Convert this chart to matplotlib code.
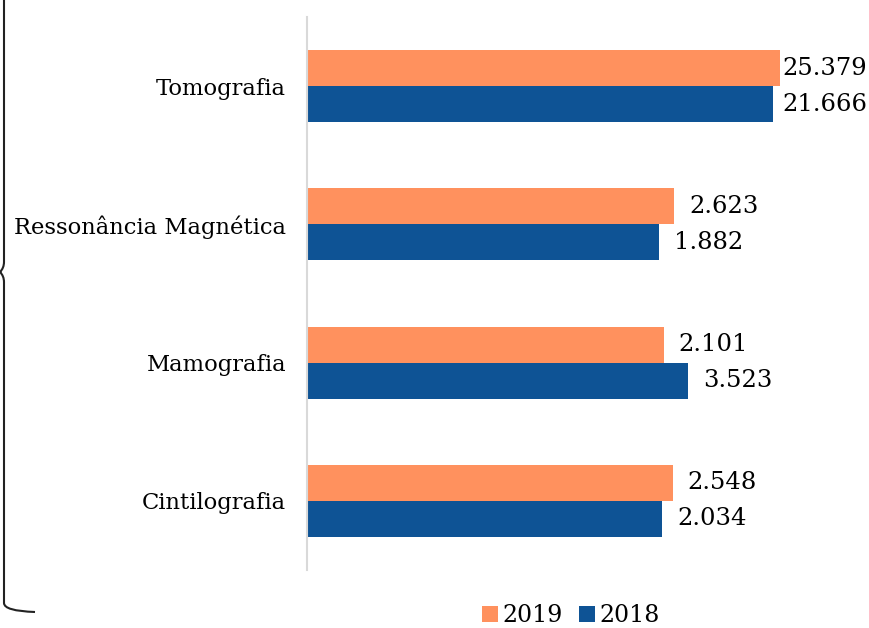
import numpy as np
import matplotlib
matplotlib.use('Agg')
import matplotlib.pyplot as plt
from matplotlib.path import Path
from matplotlib.patches import PathPatch

# data (valores como aparecem no grafico)
categories = ['Tomografia', 'Ressonância Magnética', 'Mamografia', 'Cintilografia']
v2019 = [25379, 2623, 2101, 2548]
v2018 = [21666, 1882, 3523, 2034]
lab2019 = ['25.379', '2.623', '2.101', '2.548']
lab2018 = ['21.666', '1.882', '3.523', '2.034']

c2019 = '#FF915E'
c2018 = '#0E5395'

plt.rcParams['font.family'] = ['DejaVu Serif']
W, H = 870, 628
fig = plt.figure(figsize=(W / 100, H / 100), dpi=100)

# axes em pixels: esquerda 307, topo 17, direita 844, baixo 570
left, top, right, bottom = 307, 17, 844, 570
ax = fig.add_axes([left / W, 1 - bottom / H, (right - left) / W, (bottom - top) / H])

y = np.arange(len(categories))
h = 0.26
ax.barh(y - h / 2, v2019, height=h, color=c2019, label='2019', log=True)
ax.barh(y + h / 2, v2018, height=h, color=c2018, label='2018', log=True)

ax.set_xscale('log')
ax.set_xlim(1, 1e5)
ax.set_ylim(len(categories) - 0.5, -0.5)
ax.set_yticks(y)
ax.set_yticklabels(categories, fontsize=16.3, color='black')
ax.tick_params(axis='y', length=0, pad=15)
ax.tick_params(axis='x', which='both', bottom=False, labelbottom=False)
for s in ['top', 'right', 'bottom']:
    ax.spines[s].set_visible(False)
ax.spines['left'].set_color('#d9d9d9')
ax.spines['left'].set_linewidth(1.5)

# rotulos de dados
fig.canvas.draw()
limit_px = 782
for vals, labs, dy in [(v2019, lab2019, -h / 2), (v2018, lab2018, h / 2)]:
    for i, (v, t) in enumerate(zip(vals, labs)):
        xe = ax.transData.transform((v, 0))[0]
        off = min(15, limit_px - xe)
        ax.annotate(t, (v, i + dy), xytext=(off * 0.72, 0), textcoords='offset points',
                    va='center', ha='left', fontsize=17.5, color='black')

ax.legend(loc='center', bbox_to_anchor=(571 / W, 1 - 616 / H), bbox_transform=fig.transFigure,
          ncol=2, frameon=False, fontsize=17, handlelength=0.65, handleheight=0.65,
          handletextpad=0.2, columnspacing=0.7, borderpad=0.05)

# chave a esquerda
def px(x, yy):
    return (x / W, 1 - yy / H)

verts = [px(4, 0), px(4, 262), px(4, 268), px(0, 272),
         px(4, 276), px(4, 282), px(4, 603),
         px(4, 611), px(35, 612)]
codes = [Path.MOVETO, Path.LINETO, Path.CURVE3, Path.CURVE3,
         Path.CURVE3, Path.CURVE3, Path.LINETO,
         Path.CURVE3, Path.CURVE3]
fig.add_artist(PathPatch(Path(verts, codes), transform=fig.transFigure,
                         fill=False, lw=1.5, color='#222222'))

fig.savefig('out.png', dpi=100)
